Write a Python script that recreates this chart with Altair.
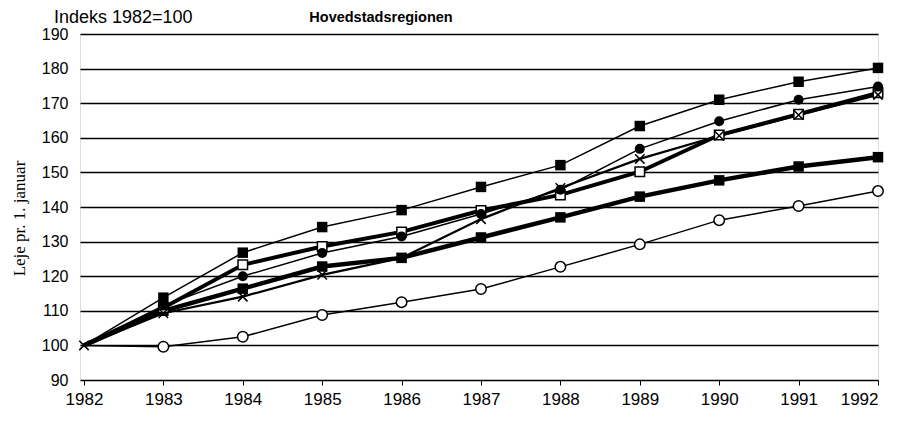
import altair as alt
import pandas as pd

years = list(range(1982, 1993))
top_squares = [100, 113.8, 126.8, 134.2, 139.1, 145.8, 152.1, 163.4, 171.0, 176.2, 180.2]
filled_circles = [100, 111.5, 120.0, 126.7, 131.5, 138.0, 145.0, 156.8, 164.8, 171.0, 174.8]
open_squares = [100, 110.9, 123.3, 128.6, 132.8, 139.0, 143.5, 150.2, 160.8, 166.8, 173.0]
crosses = [100, 109.3, 114.1, 120.4, 125.3, 136.5, 145.5, 153.9, 160.6, 166.6, 172.4]
thick_squares = [100, 110.0, 116.4, 122.8, 125.3, 131.2, 137.0, 143.0, 147.7, 151.7, 154.4]
open_circles = [100, 99.6, 102.5, 108.8, 112.5, 116.3, 122.7, 129.2, 136.2, 140.3, 144.6]
y_ticks = list(range(90, 191, 10))

series = {
    "A": top_squares,
    "B": filled_circles,
    "C": open_squares,
    "D": crosses,
    "E": thick_squares,
    "F": open_circles,
}
rows = []
for name, vals in series.items():
    for yr, v in zip(years, vals):
        rows.append({"series": name, "year": yr, "value": v})
df = pd.DataFrame(rows)

FONT = "Liberation Sans"
xs = alt.Scale(domain=[1981.95, 1992], nice=False, zero=False)
ys = alt.Scale(domain=[90, 190], nice=False, zero=False)

x_enc = alt.X("year:Q", scale=xs, axis=alt.Axis(
    values=years, format="d", title=None, grid=False, domain=False,
    ticks=True, tickSize=5, tickColor="black", tickWidth=1,
    labelFontSize=17, labelFont=FONT, labelColor="black", labelPadding=6))
y_enc = alt.Y("value:Q", scale=ys, axis=alt.Axis(
    values=y_ticks, title="Leje pr. 1. januar", grid=True, gridColor="black",
    gridWidth=1.5, gridOpacity=1, domain=False, ticks=False,
    labelFontSize=16, labelFont=FONT, labelColor="black", labelPadding=12,
    titleFont="Liberation Serif", titleFontSize=17, titleFontWeight="normal",
    titleColor="black", titleX=-61, titleY=184, titleAngle=270,
    titleAlign="center", titleBaseline="middle"))

base = alt.Chart(df)

line_styles = [("E", 4.5), ("C", 4.0), ("D", 2.2), ("F", 1.5), ("B", 1.5), ("A", 1.5)]
layers = []
for name, w in line_styles:
    layers.append(
        base.transform_filter(alt.datum.series == name)
        .mark_line(color="black", strokeWidth=w)
        .encode(x=x_enc, y=y_enc)
    )

xshape = "M-1,-1L1,1M-1,1L1,-1"
point_styles = [
    ("E", dict(shape="square", filled=True, color="black", size=110)),
    ("C", dict(shape="square", filled=True, fill="white", stroke="black", strokeWidth=1.5, size=90)),
    ("D", dict(shape=xshape, filled=False, stroke="black", strokeWidth=1.5, size=90)),
    ("F", dict(shape="circle", filled=True, fill="white", stroke="black", strokeWidth=1.5, size=110)),
    ("B", dict(shape="circle", filled=True, color="black", size=100)),
    ("A", dict(shape="square", filled=True, color="black", size=110)),
]
for name, kw in point_styles:
    flt = (alt.datum.series == name) if name == "D" else \
        ((alt.datum.series == name) & (alt.datum.year > 1982))
    layers.append(
        base.transform_filter(flt)
        .mark_point(opacity=1, **kw)
        .encode(x=x_enc, y=y_enc)
    )

lbl = pd.DataFrame({"t": ["Indeks 1982=100"]})
ttl = pd.DataFrame({"t": ["Hovedstadsregionen"]})
layers.append(alt.Chart(lbl).mark_text(align="left", baseline="middle", font=FONT,
                                       fontSize=18, color="black")
              .encode(x=alt.value(-26), y=alt.value(-16), text="t:N"))
layers.append(alt.Chart(ttl).mark_text(align="center", baseline="middle", font=FONT,
                                       fontSize=14.5, fontWeight="bold", color="black")
              .encode(x=alt.value(301), y=alt.value(-16), text="t:N"))

chart = alt.layer(*layers).properties(
    width=798, height=346,
    autosize=alt.AutoSizeParams(type="none"),
    padding={"left": 72, "top": 26, "right": 12, "bottom": 30},
).configure_view(stroke=None).configure(background="white")

chart.save("out.html", embed_options={"renderer": "svg", "actions": False})
